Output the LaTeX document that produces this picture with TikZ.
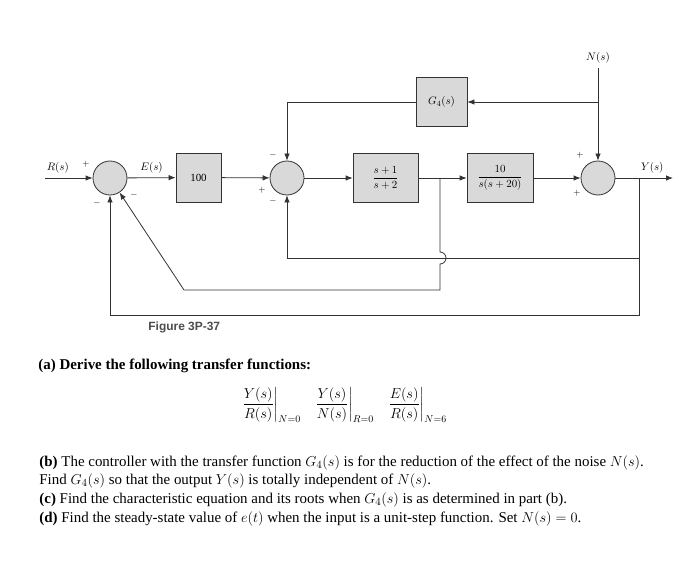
\documentclass[tikz,border=0pt]{standalone}
\usepackage{amsmath,amssymb}
\usepackage{fontspec}
\setmainfont{Liberation Serif}
\newfontfamily\figfont{Liberation Sans}
\usepackage{tikz}
\usetikzlibrary{arrows.meta}
\usetikzlibrary{positioning}
\tikzset{
  bloco/.style={draw, fill=gray!30, minimum width=#1, minimum height=49bp, inner sep=1pt, font=\fontsize{11}{13}\selectfont},
  bloco/.default=46bp,
  somador/.style={draw, circle, fill=gray!30, minimum size=34bp, inner sep=0pt},
  seta/.style={-{Latex[length=7bp,width=5.5bp]}},
  sinal/.style={font=\fontsize{9}{9}\selectfont, inner sep=0pt},
  rotulo/.style={font=\fontsize{10.5}{12}\selectfont, inner sep=0pt},
  texto/.style={font=\fontsize{15}{18}\selectfont, anchor=west, inner sep=0pt},
  fracao/.style={anchor=west, inner sep=0pt, font=\fontsize{14}{16}\selectfont},
}

\begin{document}
\begin{tikzpicture}[x=1bp, y=-1bp, line width=0.8bp, draw=black!80]
  \useasboundingbox (0,0) rectangle (700,582);
  % blocos e somadores
  \node[somador] (s1) at (110,178) {};
  \node[bloco=45bp] (k) at (198.5,177.5) {100};
  \node[somador] (s2) at (287,178) {};
  \node[bloco=65bp] (gc) at (385.5,178) {$\dfrac{s+1}{s+2}$};
  \node[bloco=66bp] (gp) at (500,178) {$\dfrac{10}{s(s+20)}$};
  \node[somador] (s3) at (598,178) {};
  \node[bloco=51bp] (g4) at (441.5,102) {$G_4(s)$};
  \coordinate (r) at (45,178);
  \coordinate (y) at (673,178);
  \coordinate (n) at (598,68);
  \coordinate (b1) at (440,178);
  \coordinate (b2) at (639,178);
  \coordinate (q1) at (639,258);
  \coordinate (q2) at (639,315);
  \coordinate (d1) at (184,290);
  % caminho direto
  \draw[seta] (r) -- node[above=4bp, pos=0.27, rotulo]{$R(s)$} (s1);
  \draw[seta] (s1) -- node[above=4bp, rotulo]{$E(s)$} (k);
  \draw[seta] (k) -- (s2);
  \draw[seta] (s2) -- (gc);
  \draw[seta] (gc) -- (gp);
  \draw[seta] (gp) -- (s3);
  \draw[seta] (s3) -- node[above=4bp, pos=0.64, rotulo]{$Y(s)$} (y);
  \node[rotulo, above=4bp of n] (nl) {$N(s)$};
  \draw[seta] (n) -- (s3);
  \draw[seta] (n |- g4) -- (g4);
  \draw[seta] (g4) -- (s2 |- g4) -- (s2);
  % realimentacoes
  \draw[seta] (b1) -- ++(0,74) arc[start angle=-90, end angle=90, radius=6] |- (d1) -- (s1);
  \draw[seta] (q1) -| (s2);
  \draw[seta] (b2) -- (q2) -| (s1);
  % sinais
  \node[sinal] at (86,164) {$+$};
  \node[sinal] at (97,203) {$-$};
  \node[sinal] at (134,195) {$-$};
  \node[sinal] at (273,155) {$-$};
  \node[sinal] at (262,190) {$+$};
  \node[sinal] at (273,201) {$-$};
  \node[sinal] at (580,155) {$+$};
  \node[sinal] at (577,193) {$+$};
  \node[font=\figfont\bfseries\fontsize{12}{14}\selectfont, text=black!70, anchor=west, inner sep=0pt] (fig) at (148,327) {Figure 3P-37};
  % enunciado
  \node[texto] (pa) at (38,366) {\textbf{(a) Derive the following transfer functions:}};
  \node[fracao] (f1) at (241,405) {$\left.\dfrac{Y(s)}{R(s)}\right|_{N=0}$};
  \node[fracao] (f2) at (314,405) {$\left.\dfrac{Y(s)}{N(s)}\right|_{R=0}$};
  \node[fracao] (f3) at (387,405) {$\left.\dfrac{E(s)}{R(s)}\right|_{N=6}$};
  \node[texto] (pb) at (39,463) {\textbf{(b)} The controller with the transfer function $G_4(s)$ is for the reduction of the effect of the noise $N(s)$.};
  \node[texto] (pb2) at (39,481) {Find $G_4(s)$ so that the output $Y(s)$ is totally independent of $N(s)$.};
  \node[texto] (pc) at (39,500) {\textbf{(c)} Find the characteristic equation and its roots when $G_4(s)$ is as determined in part (b).};
  \node[texto] (pd) at (39,519) {\textbf{(d)} Find the steady-state value of $e(t)$ when the input is a unit-step function. Set $N(s) = 0$.};
\end{tikzpicture}
\end{document}
